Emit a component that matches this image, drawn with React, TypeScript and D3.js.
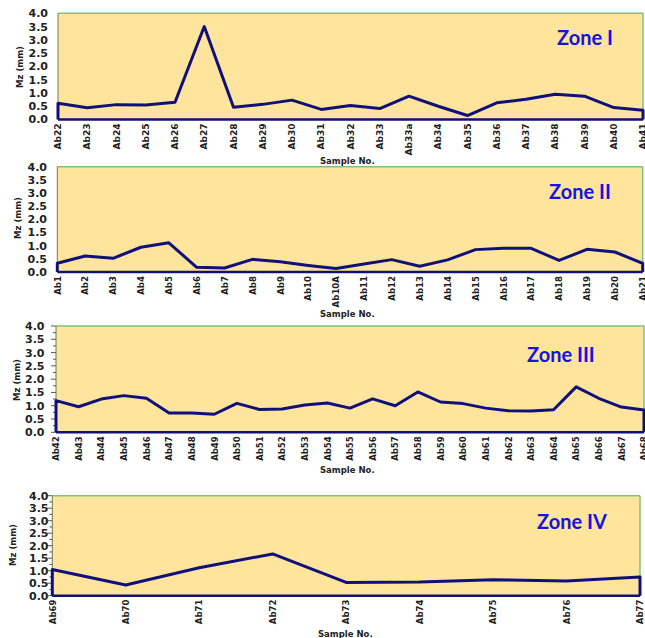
import React from "react";
import * as d3 from "d3";

const yTicks = [0, 0.5, 1.0, 1.5, 2.0, 2.5, 3.0, 3.5, 4.0];

const zone1Labels = ["Ab22","Ab23","Ab24","Ab25","Ab26","Ab27","Ab28","Ab29","Ab30","Ab31","Ab32","Ab33","Ab33a","Ab34","Ab35","Ab36","Ab37","Ab38","Ab39","Ab40","Ab41"];
const zone1Values = [0.61,0.44,0.56,0.55,0.65,3.5,0.46,0.57,0.73,0.38,0.53,0.41,0.88,0.5,0.15,0.63,0.76,0.95,0.88,0.45,0.35];

const zone2Labels = ["Ab1","Ab2","Ab3","Ab4","Ab5","Ab6","Ab7","Ab8","Ab9","Ab10","Ab10A","Ab11","Ab12","Ab13","Ab14","Ab15","Ab16","Ab17","Ab18","Ab19","Ab20","Ab21"];
const zone2Values = [0.33,0.61,0.52,0.94,1.11,0.18,0.15,0.48,0.39,0.25,0.13,0.3,0.47,0.22,0.46,0.85,0.9,0.9,0.44,0.86,0.76,0.33];

const zone3Labels = ["Ab42","Ab43","Ab44","Ab45","Ab46","Ab47","Ab48","Ab49","Ab50","Ab51","Ab52","Ab53","Ab54","Ab55","Ab56","Ab57","Ab58","Ab59","Ab60","Ab61","Ab62","Ab63","Ab64","Ab65","Ab66","Ab67","Ab68"];
const zone3Values = [1.19,0.96,1.25,1.38,1.28,0.73,0.73,0.68,1.09,0.86,0.88,1.03,1.1,0.91,1.26,1.0,1.52,1.14,1.08,0.91,0.81,0.8,0.85,1.71,1.28,0.95,0.84];

const zone4Labels = ["Ab69","Ab70","Ab71","Ab72","Ab73","Ab74","Ab75","Ab76","Ab77"];
const zone4Values = [1.05,0.43,1.12,1.67,0.53,0.55,0.64,0.59,0.75];

const zoneNames = ["Zone I", "Zone II", "Zone III", "Zone IV"];

interface Layout {
  left: number; right: number; top: number; bottom: number;
  zoneX: number; zoneY: number;
  sampleX: number; sampleY: number;
  titleX: number; titleY: number;
  tickLabelX: number; ticks: boolean; xFont: number;
}

const layouts: Layout[] = [
  { left: 58, right: 643, top: 13.3, bottom: 119.5, zoneX: 557, zoneY: 45, sampleX: 320, sampleY: 164, titleX: 20, titleY: 67, tickLabelX: 48, ticks: false, xFont: 9 },
  { left: 57.3, right: 642.7, top: 166.7, bottom: 272, zoneX: 549, zoneY: 199, sampleX: 320, sampleY: 317, titleX: 18.3, titleY: 218, tickLabelX: 47, ticks: false, xFont: 8.6 },
  { left: 56, right: 644, top: 326, bottom: 432.3, zoneX: 527, zoneY: 362, sampleX: 320, sampleY: 473, titleX: 16.7, titleY: 380, tickLabelX: 44.5, ticks: true, xFont: 8.5 },
  { left: 52.3, right: 640, top: 495.7, bottom: 595.7, zoneX: 537, zoneY: 529, sampleX: 318, sampleY: 637, titleX: 13.3, titleY: 545, tickLabelX: 48.5, ticks: true, xFont: 8.5 },
];

const series = [
  { labels: zone1Labels, values: zone1Values },
  { labels: zone2Labels, values: zone2Values },
  { labels: zone3Labels, values: zone3Values },
  { labels: zone4Labels, values: zone4Values },
];

const BG = "#FEE49C";
const NAVY = "#10107A";
const GREEN = "#7DC47A";
const FONT = "'DejaVu Sans', Verdana, sans-serif";

function Panel({ idx }: { idx: number }) {
  const L = layouts[idx];
  const { labels, values } = series[idx];
  const x = d3.scalePoint<string>().domain(labels).range([L.left, L.right]).padding(0);
  const y = d3.scaleLinear().domain([0, 4]).range([L.bottom, L.top]);
  const pts: [number, number][] = [
    [x(labels[0])!, y(0)],
    ...labels.map((l, i) => [x(l)!, y(values[i])] as [number, number]),
    [x(labels[labels.length - 1])!, y(0)],
  ];
  const line = d3.line<[number, number]>().x(d => d[0]).y(d => d[1]);
  const minor = d3.range(0, 4.0001, 0.25);
  return (
    <g>
      <rect x={L.left} y={L.top} width={L.right - L.left} height={L.bottom - L.top} fill={BG} />
      <line x1={L.left} x2={L.right} y1={L.top} y2={L.top} stroke={GREEN} strokeWidth={1.5} />
      <line x1={L.right} x2={L.right} y1={L.top} y2={L.bottom} stroke={GREEN} strokeWidth={1.5} />
      <line x1={L.left} x2={L.left} y1={L.top} y2={L.bottom} stroke="#6E7A55" strokeWidth={1} />
      {L.ticks && minor.map((t, i) => (
        <line key={"m" + i} x1={L.left} x2={L.left - (i % 2 === 0 ? 5 : 3)} y1={y(t)} y2={y(t)} stroke="#556040" strokeWidth={1} />
      ))}
      {yTicks.map(t => (
        <text key={t} x={L.tickLabelX} y={y(t)} dy="0.36em" textAnchor="end" fontFamily={FONT} fontWeight="bold" fontSize={11} fill="#222">
          {t.toFixed(1)}
        </text>
      ))}
      <path d={line(pts)!} fill="none" stroke={NAVY} strokeWidth={3} strokeLinejoin="round" />
      <line x1={L.left} x2={L.right} y1={L.bottom} y2={L.bottom} stroke={NAVY} strokeWidth={2.5} />
      {labels.map(l => (
        <text key={l} transform={`translate(${x(l)! + 3.2},${L.bottom + 4}) rotate(-90)`} textAnchor="end" fontFamily={FONT} fontWeight="bold" fontSize={L.xFont} fill="#222">
          {l}
        </text>
      ))}
      <text transform={`translate(${L.titleX + 3},${L.titleY}) rotate(-90)`} textAnchor="middle" fontFamily={FONT} fontWeight="bold" fontSize={8.5} fill="#222">
        Mz (mm)
      </text>
      <text x={L.sampleX} y={L.sampleY} fontFamily={FONT} fontWeight="bold" fontSize={8.5} fill="#222">
        Sample No.
      </text>
      <text x={L.zoneX} y={L.zoneY} fontFamily="Lato, 'Open Sans', sans-serif" fontWeight="bold" fontSize={20} fill="#1414DC">
        {zoneNames[idx]}
      </text>
    </g>
  );
}

export default function App() {
  return (
    <svg width={645} height={638} style={{ position: "absolute", left: 0, top: 0, background: "#fff" }}>
      {[0, 1, 2, 3].map(i => <Panel key={i} idx={i} />)}
    </svg>
  );
}
